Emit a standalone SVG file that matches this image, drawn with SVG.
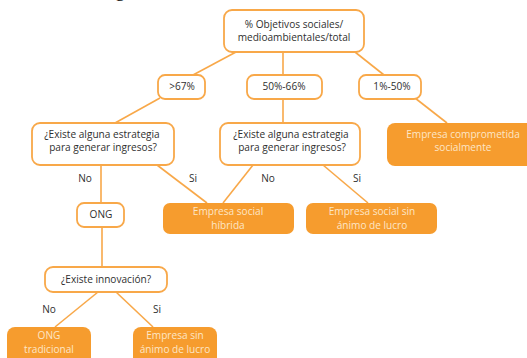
<svg xmlns="http://www.w3.org/2000/svg" width="527" height="358" viewBox="0 0 527 358">
<style>
.b{fill:#fff;stroke:#F8A849;stroke-width:1.8}
.f{fill:#F69C2E;stroke:none}
.l{stroke:#F8A849;stroke-width:1.6;fill:none}
text{font-family:"Open Sans","Noto Sans",sans-serif;font-size:10.1px;text-anchor:middle}
.d{fill:#2f2f2f}
.w{fill:#FDE6C6}
</style>
<rect width="527" height="358" fill="#fff"/>
<text x="120" y="-4" style="font-family:'Liberation Serif',serif;font-size:20px;fill:#111">g</text>
<g id="connectors" class="l">
<line x1="236" y1="52" x2="193" y2="75"/>
<line x1="283" y1="52" x2="283" y2="75"/>
<line x1="355" y1="52" x2="384" y2="75"/>
<line x1="160" y1="98" x2="115" y2="123"/>
<line x1="283" y1="99" x2="283" y2="123"/>
<line x1="415" y1="98" x2="447" y2="123"/>
<line x1="101" y1="165" x2="101" y2="203"/>
<line x1="157" y1="165" x2="207" y2="203"/>
<line x1="253" y1="165" x2="223" y2="203"/>
<line x1="323" y1="165" x2="368" y2="203"/>
<line x1="102" y1="227" x2="102" y2="267"/>
<line x1="98" y1="292" x2="55" y2="327"/>
<line x1="116" y1="292" x2="153" y2="327"/>
</g>
<g id="labels" class="d">
<text x="85" y="182">No</text>
<text x="193" y="182">Si</text>
<text x="268" y="182">No</text>
<text x="357" y="182">Si</text>
<text x="49" y="313">No</text>
<text x="157" y="313">Si</text>
</g>
<g id="top"><rect class="b" x="224" y="10" width="140" height="42" rx="8"/>
<text class="d" x="294" y="28">% Objetivos sociales/</text>
<text class="d" x="294" y="41">medioambientales/total</text></g>
<g id="n67"><rect class="b" x="158" y="75" width="47" height="24" rx="7"/>
<text class="d" x="182" y="90">&gt;67%</text></g>
<g id="n5066"><rect class="b" x="247" y="75" width="75" height="24" rx="7"/>
<text class="d" x="284" y="90">50%-66%</text></g>
<g id="n150"><rect class="b" x="359" y="75" width="62" height="24" rx="7"/>
<text class="d" x="392" y="90">1%-50%</text></g>
<g id="q1"><rect class="b" x="32" y="123" width="142" height="42" rx="8"/>
<text class="d" x="102" y="138">¿Existe alguna estrategia</text>
<text class="d" x="103" y="151">para generar ingresos?</text></g>
<g id="q2"><rect class="b" x="220" y="123" width="140" height="42" rx="8"/>
<text class="d" x="291" y="138">¿Existe alguna estrategia</text>
<text class="d" x="292" y="151">para generar ingresos?</text></g>
<g id="ecs"><rect class="f" x="387" y="123" width="152" height="43" rx="8"/>
<text class="w" x="463" y="138">Empresa comprometida</text>
<text class="w" x="463" y="151">socialmente</text></g>
<g id="ong"><rect class="b" x="77" y="203" width="47" height="24" rx="7"/>
<text class="d" x="101" y="218">ONG</text></g>
<g id="esh"><rect class="f" x="163" y="203" width="131" height="31" rx="7"/>
<text class="w" x="228" y="215">Empresa social</text>
<text class="w" x="228" y="229">híbrida</text></g>
<g id="essl"><rect class="f" x="306" y="203" width="131" height="31" rx="7"/>
<text class="w" x="372" y="215">Empresa social sin</text>
<text class="w" x="372" y="229">ánimo de lucro</text></g>
<g id="qi"><rect class="b" x="45" y="267" width="122" height="25" rx="8"/>
<text class="d" x="106" y="283">¿Existe innovación?</text></g>
<g id="ongt"><rect class="f" x="7" y="327" width="84" height="40" rx="8"/>
<text class="w" x="49" y="339">ONG</text>
<text class="w" x="49" y="353">tradicional</text></g>
<g id="esal"><rect class="f" x="133" y="327" width="84" height="40" rx="8"/>
<text class="w" x="175" y="339">Empresa sin</text>
<text class="w" x="175" y="353">ánimo de lucro</text></g>
</svg>
